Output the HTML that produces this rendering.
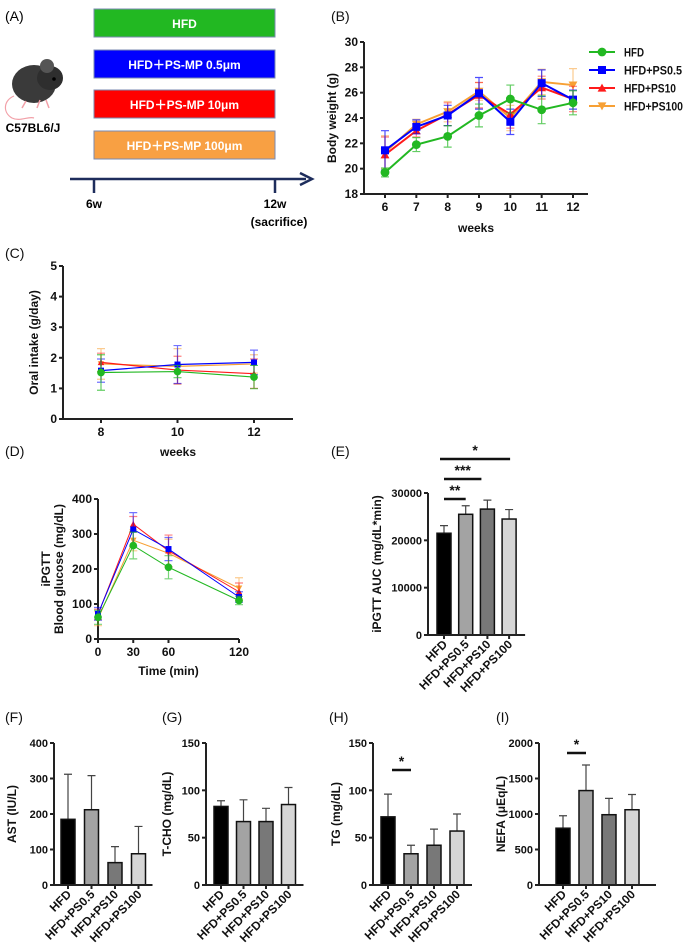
<!DOCTYPE html>
<html><head><meta charset="utf-8"><style>
html,body{margin:0;padding:0;background:#fff;}
svg{display:block;font-family:"Liberation Sans",Arial,sans-serif;}
</style></head><body>
<svg id="fig" width="685" height="951" viewBox="0 0 685 951" xmlns="http://www.w3.org/2000/svg">
<g id="panelA">
<text x="5" y="21" font-size="14">(A)</text>
<g>
<path d="M14,96 C4,100 2,112 12,118 C20,122 28,116 34,118" fill="none" stroke="#f2a0a8" stroke-width="1.2"/>
<ellipse cx="34" cy="84" rx="22" ry="19" fill="#3a3a3a"/>
<ellipse cx="50" cy="78" rx="13" ry="12" fill="#2e2e2e"/>
<circle cx="47" cy="66" r="7" fill="#555"/>
<circle cx="54" cy="79" r="1.8" fill="#000"/>
<path d="M40,100 l-3,8 M46,100 l3,8 M26,101 l-4,7" stroke="#f2a0a8" stroke-width="1.5"/>
</g>
<text x="33" y="132" font-size="12" font-weight="bold" text-anchor="middle">C57BL6/J</text>
<rect x="94" y="9" width="181" height="28" fill="#22b822" stroke="#7a8ab0"/>
<text x="184.5" y="28" font-size="12" font-weight="bold" fill="#fff" text-anchor="middle">HFD</text>
<rect x="94" y="50" width="181" height="28" fill="#0000ff" stroke="#7a8ab0"/>
<text x="184.5" y="69" font-size="12" font-weight="bold" fill="#fff" text-anchor="middle">HFD＋PS-MP 0.5μm</text>
<rect x="94" y="90" width="181" height="28" fill="#ff0000" stroke="#7a8ab0"/>
<text x="184.5" y="109" font-size="12" font-weight="bold" fill="#fff" text-anchor="middle">HFD＋PS-MP 10μm</text>
<rect x="94" y="131" width="181" height="28" fill="#f8a043" stroke="#7a8ab0"/>
<text x="184.5" y="150" font-size="12" font-weight="bold" fill="#fff" text-anchor="middle">HFD＋PS-MP 100μm</text>
<line x1="70" y1="179" x2="306" y2="179" stroke="#1e2d5c" stroke-width="2.5"/>
<path d="M300,173 L312,179 L300,185" fill="none" stroke="#1e2d5c" stroke-width="2.5"/>
<line x1="94" y1="179" x2="94" y2="193" stroke="#1e2d5c" stroke-width="2.5"/>
<line x1="275" y1="179" x2="275" y2="193" stroke="#1e2d5c" stroke-width="2.5"/>
<text x="94" y="208" font-size="12" font-weight="bold" text-anchor="middle">6w</text>
<text x="275" y="208" font-size="12" font-weight="bold" text-anchor="middle">12w</text>
<text x="279" y="226" font-size="12" font-weight="bold" text-anchor="middle">(sacrifice)</text>
</g>
</svg>
<script>
// ---------- data ----------
const bWeeks=[6,7,8,9,10,11,12];
const bHFD=[19.7,21.9,22.55,24.2,25.5,24.65,25.2];
const bHFDerr=[0.35,0.55,0.85,0.9,1.1,1.1,0.95];
const bPS05=[21.45,23.3,24.2,25.95,23.7,26.75,25.45];
const bPS05err=[1.55,0.55,0.8,1.25,1.0,1.05,0.75];
const bPS10=[21.1,23.0,24.3,25.8,24.3,26.4,25.5];
const bPS10err=[1.4,0.5,0.9,1.0,1.1,0.9,1.0];
const bPS100=[21.3,23.5,24.5,26.1,24.0,26.85,26.6];
const bPS100err=[1.3,0.4,0.8,0.7,1.0,1.0,1.3];
const bYTicks=[18,20,22,24,26,28,30];

const cWeeks=[8,10,12];
const cHFD=[1.52,1.55,1.37];
const cHFDerr=[0.58,0.2,0.38];
const cPS05=[1.58,1.78,1.85];
const cPS05err=[0.38,0.62,0.4];
const cPS10=[1.85,1.6,1.48];
const cPS10err=[0.3,0.45,0.48];
const cPS100=[1.8,1.72,1.8];
const cPS100err=[0.5,0.58,0.3];
const cYTicks=[0,1,2,3,4,5];

const dTimes=[0,30,60,120];
const dHFD=[62,267,205,110];
const dHFDerr=[20,38,33,12];
const dPS05=[72,313,257,120];
const dPS05err=[18,48,33,15];
const dPS10=[70,328,252,135];
const dPS10err=[15,22,45,25];
const dPS100=[58,282,245,145];
const dPS100err=[20,30,40,30];
const dYTicks=[0,100,200,300,400];

const groups=['HFD','HFD+PS0.5','HFD+PS10','HFD+PS100'];
const eAUC=[21500,25500,26600,24500];
const eAUCerr=[1600,1800,1900,2000];
const eYTicks=[0,10000,20000,30000];
const fAST=[185,212,63,88];
const fASTerr=[127,96,45,77];
const fYTicks=[0,100,200,300,400];
const gTCHO=[83,67,67,85];
const gTCHOerr=[6,23,14,18];
const gYTicks=[0,50,100,150];
const hTG=[72,33,42,57];
const hTGerr=[24,9,17,18];
const hYTicks=[0,50,100,150];
const iNEFA=[800,1330,990,1060];
const iNEFAerr=[175,360,230,215];
const iYTicks=[0,500,1000,1500,2000];

const colors={HFD:'#22b822',PS05:'#0000ff',PS10:'#ff1a1a',PS100:'#f7a035'};
const barFills=['#000000','#a3a3a3','#787878','#d6d6d6'];

// ---------- helpers ----------
const NS='http://www.w3.org/2000/svg';
const fig=document.getElementById('fig');
function mk(tag,attrs,parent){const e=document.createElementNS(NS,tag);for(const k in attrs)e.setAttribute(k,attrs[k]);(parent||fig).appendChild(e);return e;}
function lin(d0,d1,r0,r1){return v=>r0+(v-d0)/(d1-d0)*(r1-r0);}
function txt(x,y,s,size,anchor,parent,extra){const t=mk('text',Object.assign({x:x,y:y,'font-size':size,'font-weight':'bold','text-anchor':anchor,fill:'#111'},extra||{}),parent);t.textContent=s;return t;}

function yAxis(g,x,y0,y1,ticks,sy,fs,label,labelX){
  const a=mk('line',{x1:x,y1:sy(ticks[0]),x2:x,y2:sy(ticks[ticks.length-1]),stroke:'#222','stroke-width':2},g);
  
  
  ticks.forEach(v=>{
    const tk=mk('line',{x1:x-4,y1:sy(v),x2:x,y2:sy(v),stroke:'#222','stroke-width':2},g);
    
    
    const tl=txt(x-6,sy(v)+4,String(v),fs,'end',g);
    
    
  });
  if(label){
    const cy=(sy(ticks[0])+sy(ticks[ticks.length-1]))/2;
    const lines=Array.isArray(label)?label:[label];
    lines.forEach((s,i)=>{
      const lx=labelX+i*13;
      const t=txt(lx,cy,s,12,'middle',g,{transform:'rotate(-90 '+lx+' '+cy+')'});
      
      
    });
  }
}
function xAxisNum(g,y,x0,x1,ticks,sx,fs,label,labelY){
  const a=mk('line',{x1:x0,y1:y,x2:x1,y2:y,stroke:'#222','stroke-width':2},g);
  
  
  ticks.forEach(v=>{
    const tk=mk('line',{x1:sx(v),y1:y,x2:sx(v),y2:y+4,stroke:'#222','stroke-width':2},g);
    
    
    const tl=txt(sx(v),y+17,String(v),fs,'middle',g);
    
    
  });
  if(label){
    const t=txt((x0+x1)/2,labelY,label,12,'middle',g);
    
    
  }
}
function marker(g,kind,x,y,c,s){
  let m;
  if(kind==='circle')m=mk('circle',{cx:x,cy:y,r:s*0.55,fill:c},g);
  else if(kind==='square')m=mk('rect',{x:x-s/2,y:y-s/2,width:s,height:s,fill:c},g);
  else if(kind==='tri')m=mk('path',{d:'M'+x+','+(y-s*0.55)+' L'+(x+s*0.55)+','+(y+s*0.45)+' L'+(x-s*0.55)+','+(y+s*0.45)+'Z',fill:c},g);
  else m=mk('path',{d:'M'+x+','+(y+s*0.55)+' L'+(x+s*0.55)+','+(y-s*0.45)+' L'+(x-s*0.55)+','+(y-s*0.45)+'Z',fill:c},g);
  return m;
}
function series(g,name,xs,ys,errs,sx,sy,c,kind,ms,lw,errOpacity){
  const sg=mk('g',{},g);
  
  
  xs.forEach((xv,i)=>{
    const x=sx(xv),yt=sy(ys[i]+errs[i]),yb=sy(ys[i]-errs[i]);
    const eb=mk('path',{d:'M'+x+','+yt+' V'+yb+' M'+(x-4)+','+yt+' H'+(x+4)+' M'+(x-4)+','+yb+' H'+(x+4),stroke:c,'stroke-width':1.2,fill:'none',opacity:errOpacity},sg);
    
    
  });
  const pl=mk('polyline',{points:xs.map((xv,i)=>sx(xv)+','+sy(ys[i])).join(' '),fill:'none',stroke:c,'stroke-width':lw},sg);
  
  
  xs.forEach((xv,i)=>{
    const m=marker(sg,kind,sx(xv),sy(ys[i]),c,ms);
    
    
  });
}
function barChart(name,ax,y0,yTop,maxV,ticks,vals,errs,label,labelX,sig,off,step,bw){
  const g=mk('g',{});
  
  
  const sy=lin(0,maxV,y0,yTop);
  const cx=i=>ax+off+i*step;
  vals.forEach((v,i)=>{
    const x=cx(i);
    const eb=mk('path',{d:'M'+x+','+sy(v)+' V'+sy(v+errs[i])+' M'+(x-4)+','+sy(v+errs[i])+' H'+(x+4),stroke:'#444','stroke-width':1.2,fill:'none'},g);
    
    
    const r=mk('rect',{x:x-bw/2,y:sy(v),width:bw,height:y0-sy(v),fill:barFills[i],stroke:'#111','stroke-width':1.5},g);
    
    
  });
  yAxis(g,ax,y0,yTop,ticks,sy,11,label,labelX);
  const xa=mk('line',{x1:ax,y1:y0,x2:ax+off*2+step*3,y2:y0,stroke:'#222','stroke-width':2},g);
  
  
  groups.forEach((s,i)=>{
    const x=cx(i);
    const tk=mk('line',{x1:x,y1:y0,x2:x,y2:y0+4,stroke:'#222','stroke-width':2},g);
    
    
    const tx=x+4,ty=y0+10;
    const t=txt(tx,ty,s,12,'end',g,{transform:'rotate(-45 '+tx+' '+ty+')'});
    
    
  });
  (sig||[]).forEach(s=>{
    const l=mk('line',{x1:cx(s[0])+(s[4]||0),y1:s[3],x2:cx(s[1])+(s[5]||0),y2:s[3],stroke:'#111','stroke-width':2.5},g);
    
    
    const st=txt((cx(s[0])+(s[4]||0)+cx(s[1])+(s[5]||0))/2,s[3]-4,s[2],14,'middle',g);
    
    
  });
}
function panelLabel(x,y,s,name){const t=mk('text',{x:x,y:y,'font-size':14,fill:'#111'});t.textContent=s;
  
  }

// ---------- panel B ----------
panelLabel(331,21,'(B)','panel-label-b');
const gB=mk('g',{});


const bx=lin(6,12,385,573), by=lin(18,30,194,42);
yAxis(gB,364,194,42,bYTicks,by,12,'Body weight (g)',336);
xAxisNum(gB,194,364,588,bWeeks,bx,12,'weeks',232);
series(gB,'hfd-ps100',bWeeks,bPS100,bPS100err,bx,by,colors.PS100,'dtri',8,2,0.55);
series(gB,'hfd-ps10',bWeeks,bPS10,bPS10err,bx,by,colors.PS10,'tri',8,2,0.55);
series(gB,'hfd-ps05',bWeeks,bPS05,bPS05err,bx,by,colors.PS05,'square',8,2,0.7);
series(gB,'hfd',bWeeks,bHFD,bHFDerr,bx,by,colors.HFD,'circle',8,2,0.7);
const legItems=[['HFD',colors.HFD,'circle',20],['HFD+PS0.5',colors.PS05,'square',58],['HFD+PS10',colors.PS10,'tri',52],['HFD+PS100',colors.PS100,'dtri',59]];
legItems.forEach((it,i)=>{
  const y=52+i*18;
  const lg=mk('g',{},gB);
  
  
  mk('line',{x1:589,y1:y,x2:615,y2:y,stroke:it[1],'stroke-width':2},lg);
  marker(lg,it[2],602,y,it[1],8);
  txt(624,y+4.5,it[0],12,'start',lg,{textLength:it[3],lengthAdjust:'spacingAndGlyphs'});
});

// ---------- panel C ----------
panelLabel(5,258,'(C)','panel-label-c');
const gC=mk('g',{});


const cx_=lin(8,12,101,254), cy_=lin(0,5,419,266);
yAxis(gC,63,419,266,cYTicks,cy_,12,'Oral intake (g/day)',38);
xAxisNum(gC,419,63,293,cWeeks,cx_,12,'weeks',456);
series(gC,'hfd-ps100',cWeeks,cPS100,cPS100err,cx_,cy_,colors.PS100,'dtri',6,1.2,0.55);
series(gC,'hfd-ps10',cWeeks,cPS10,cPS10err,cx_,cy_,colors.PS10,'tri',6,1.2,0.55);
series(gC,'hfd-ps05',cWeeks,cPS05,cPS05err,cx_,cy_,colors.PS05,'square',6,1.2,0.55);
series(gC,'hfd',cWeeks,cHFD,cHFDerr,cx_,cy_,colors.HFD,'circle',7,1.2,0.7);

// ---------- panel D ----------
panelLabel(5,456,'(D)','panel-label-d');
const gD=mk('g',{});


const dx=lin(0,120,98,239), dy=lin(0,400,639,499);
yAxis(gD,98,639,499,dYTicks,dy,12,['iPGTT','Blood glucose (mg/dL)'],50);
xAxisNum(gD,639,98,239,dTimes,dx,12,'Time (min)',675);
series(gD,'hfd-ps100',dTimes,dPS100,dPS100err,dx,dy,colors.PS100,'dtri',6,1,0.55);
series(gD,'hfd-ps10',dTimes,dPS10,dPS10err,dx,dy,colors.PS10,'tri',6,1,0.55);
series(gD,'hfd-ps05',dTimes,dPS05,dPS05err,dx,dy,colors.PS05,'square',6,1,0.55);
series(gD,'hfd',dTimes,dHFD,dHFDerr,dx,dy,colors.HFD,'circle',7,1,0.6);

// ---------- panel E ----------
panelLabel(331,456,'(E)','panel-label-e');
barChart('panel-e-auc',428,635,493,30000,eYTicks,eAUC,eAUCerr,'iPGTT AUC (mg/dL*min)',381,
  [[0,1,'**',499,0,0],[0,2,'***',479,0,-6],[0,3,'*',459,-4,1]],16,21.7,14);

// ---------- bottom row ----------
panelLabel(5,722,'(F)','panel-label-f');
panelLabel(162,722,'(G)','panel-label-g');
panelLabel(329,722,'(H)','panel-label-h');
panelLabel(496,722,'(I)','panel-label-i');
barChart('panel-f-ast',54,885,743,400,fYTicks,fAST,fASTerr,'AST (IU/L)',16,[],14,23.5,14);
barChart('panel-g-tcho',206,885,743,150,gYTicks,gTCHO,gTCHOerr,'T-CHO (mg/dL)',171,[],15,22.5,14);
barChart('panel-h-tg',373,885,743,150,hYTicks,hTG,hTGerr,'TG (mg/dL)',340,[[0,1,'*',770,4,0]],15,23,14);
barChart('panel-i-nefa',539,885,743,2000,iYTicks,iNEFA,iNEFAerr,'NEFA (μEq/L)',505,[[0,1,'*',753,4,0]],24,23,14);
</script>
</body></html>
